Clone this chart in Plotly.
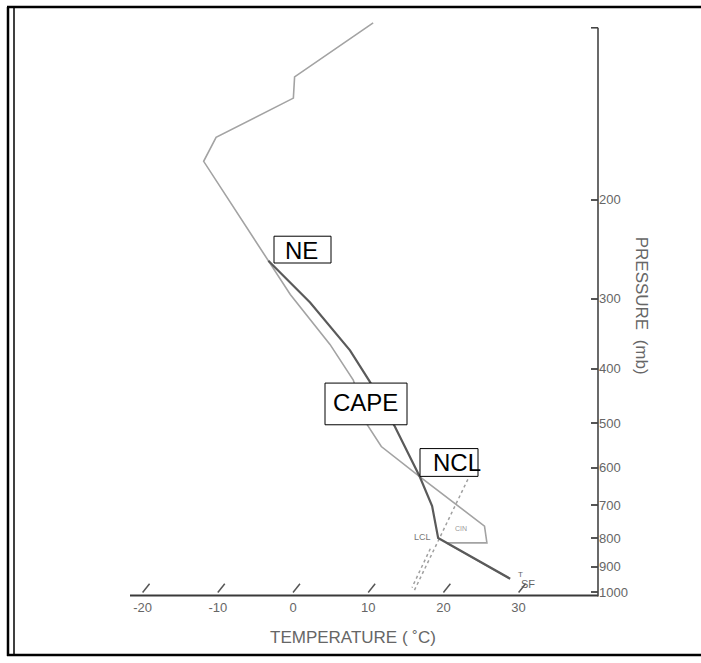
import numpy as np
import plotly.graph_objects as go

# ---------------- data (temperature in deg C, pressure in mb) ----------------
env_p = [97, 121, 132, 155, 171, 257, 295, 362, 419, 503, 550, 622, 762, 816, 816, 945]
env_T = [-50.0, -54.7, -52.6, -58.7, -57.8, -38.6, -32.1, -21.5, -14.6, -8.0, -3.8, 4.5, 18.4, 20.5, 15.1, 27.4]

parcel_p = [945, 800, 702, 622, 507, 422, 371, 305, 257]
parcel_T = [27.4, 13.5, 9.3, 4.5, -4.1, -12.2, -18.2, -28.6, -38.6]

mix1_p = [629, 1000]
mix1_T = [11.2, 16.0]
mix2_p = [836, 980]
mix2_T = [13.6, 15.3]

temp_ticks = [-20, -10, 0, 10, 20, 30]
temp_labels = ["-20", "-10", "0", "10", "20", "30"]
pres_ticks = [200, 300, 400, 500, 600, 700, 800, 900, 1000]
pres_labels = ["200", "300", "400", "500", "600", "700", "800", "900", "1000"]

SKEW = 26.0  # deg C per ln(p) unit (skewed isotherms)


def skew(T, p):
    return np.asarray(T, dtype=float) + SKEW * np.log(1000.0 / np.asarray(p, dtype=float))


W, H = 701, 663


def px(x):
    return x / W


def py(y):
    return 1 - y / H


fig = go.Figure()

# slanted isotherm tick marks on the temperature axis
tx, ty = [], []
for t in temp_ticks:
    tx += list(skew([t, t], [1000, 965])) + [None]
    ty += [1000, 965, None]
fig.add_trace(go.Scatter(x=tx, y=ty, mode="lines", line=dict(color="#555555", width=1.5),
                         hoverinfo="skip", showlegend=False))

# mixing-ratio (dotted) lines
fig.add_trace(go.Scatter(x=skew(mix1_T, mix1_p), y=mix1_p, mode="lines",
                         line=dict(color="#a0a0a0", width=1.5, dash="dot"),
                         hoverinfo="skip", showlegend=False))
fig.add_trace(go.Scatter(x=skew(mix2_T, mix2_p), y=mix2_p, mode="lines",
                         line=dict(color="#a0a0a0", width=1.5, dash="dot"),
                         hoverinfo="skip", showlegend=False))

# environmental sounding
fig.add_trace(go.Scatter(x=skew(env_T, env_p), y=env_p, mode="lines",
                         line=dict(color="#a3a3a3", width=1.6),
                         hoverinfo="skip", showlegend=False))

# parcel path
fig.add_trace(go.Scatter(x=skew(parcel_T, parcel_p), y=parcel_p, mode="lines",
                         line=dict(color="#5a5a5a", width=2.2),
                         hoverinfo="skip", showlegend=False))

x_left, x_right = 130, 598
y_top, y_bot = 18, 600
x0c, scale = 293.0, 7.52
xr = [(x_left - x0c) / scale, (x_right - x0c) / scale]
p_top = 1000 * np.exp(-(597 - y_top) / 246.0)
p_bot = 1000 * np.exp(-(597 - y_bot) / 246.0)

fig.update_layout(
    width=W, height=H,
    margin=dict(l=0, r=0, t=0, b=0),
    paper_bgcolor="white", plot_bgcolor="white",
    font=dict(family="Liberation Sans, Arial, sans-serif", color="#666666"),
    xaxis=dict(domain=[px(x_left), px(x_right)], range=xr, showgrid=False, zeroline=False,
               showline=False, ticks="", tickvals=temp_ticks, ticktext=temp_labels,
               tickfont=dict(size=13, color="#666666"), ticklabelstandoff=3, fixedrange=True),
    yaxis=dict(domain=[py(y_bot), py(y_top)], type="log",
               range=[np.log10(p_bot), np.log10(p_top)], side="right",
               showgrid=False, zeroline=False, showline=False,
               ticks="inside", ticklen=7, tickwidth=1.5, tickcolor="#555555",
               tickvals=pres_ticks, ticktext=pres_labels,
               tickfont=dict(size=13, color="#666666"), fixedrange=True),
)

shapes = []
# outer frame (left double line, top and bottom; open on the right)
for (x0, y0, x1, y1, w) in [(7, 7, 701, 7, 2.5), (7, 660, 701, 660, 2.5),
                            (8, 7, 8, 661, 2.5), (14, 8, 14, 660, 1.5)]:
    shapes.append(dict(type="line", xref="paper", yref="paper", x0=px(x0), x1=px(x1),
                       y0=py(y0), y1=py(y1), line=dict(color="black", width=w)))
# axis lines
shapes.append(dict(type="line", xref="paper", yref="paper", x0=px(130), x1=px(598), y0=py(600), y1=py(600),
                   line=dict(color="#3a3a3a", width=2)))
shapes.append(dict(type="line", xref="paper", yref="paper", x0=px(598), x1=px(598), y0=py(601), y1=py(28),
                   line=dict(color="#444444", width=1.6)))
shapes.append(dict(type="line", xref="paper", yref="paper", x0=px(591), x1=px(598), y0=py(28), y1=py(28),
                   line=dict(color="#444444", width=1.6)))
# label boxes
for (bx0, by0, bx1, by1) in [(274, 238, 331, 265), (325, 386, 407, 428), (420, 452, 478, 480)]:
    shapes.append(dict(type="rect", xref="paper", yref="paper", x0=px(bx0), x1=px(bx1), y0=py(by1), y1=py(by0),
                       fillcolor="white", line=dict(color="black", width=1)))
fig.update_layout(shapes=shapes)

ann = []
big = dict(family="Liberation Sans, Arial, sans-serif", size=24, color="black")
for txt, cx, cy in [("NE", 301, 252), ("CAPE", 365, 406), ("NCL", 457, 466)]:
    ann.append(dict(text=txt, xref="paper", yref="paper", x=px(cx), y=py(cy), xanchor="center",
                    yanchor="middle", showarrow=False, font=big))
ann.append(dict(text="TEMPERATURE ( \u02daC)", xref="paper", yref="paper", x=px(353), y=py(642),
                xanchor="center", yanchor="middle", showarrow=False,
                font=dict(size=17, color="#666666")))
ann.append(dict(text="PRESSURE  (mb)", xref="paper", yref="paper", x=px(641), y=py(308),
                xanchor="center", yanchor="middle", showarrow=False, textangle=90,
                font=dict(size=17, color="#666666")))
ann.append(dict(text="LCL", xref="paper", yref="paper", x=px(433), y=py(541),
                xanchor="right", yanchor="middle", showarrow=False,
                font=dict(size=9, color="#777777")))
ann.append(dict(text="CIN", xref="paper", yref="paper", x=px(461), y=py(533),
                xanchor="center", yanchor="middle", showarrow=False,
                font=dict(size=7, color="#999999")))
ann.append(dict(text="T", xref="paper", yref="paper", x=px(520), y=py(579),
                xanchor="center", yanchor="middle", showarrow=False,
                font=dict(size=8, color="#666666")))
ann.append(dict(text="SF", xref="paper", yref="paper", x=px(528), y=py(588),
                xanchor="center", yanchor="middle", showarrow=False,
                font=dict(size=11, color="#666666")))
fig.update_layout(annotations=ann)

fig.write_html("out.html", config={"displayModeBar": False},
               post_script="document.body.style.margin='0';document.body.style.overflow='hidden';")
